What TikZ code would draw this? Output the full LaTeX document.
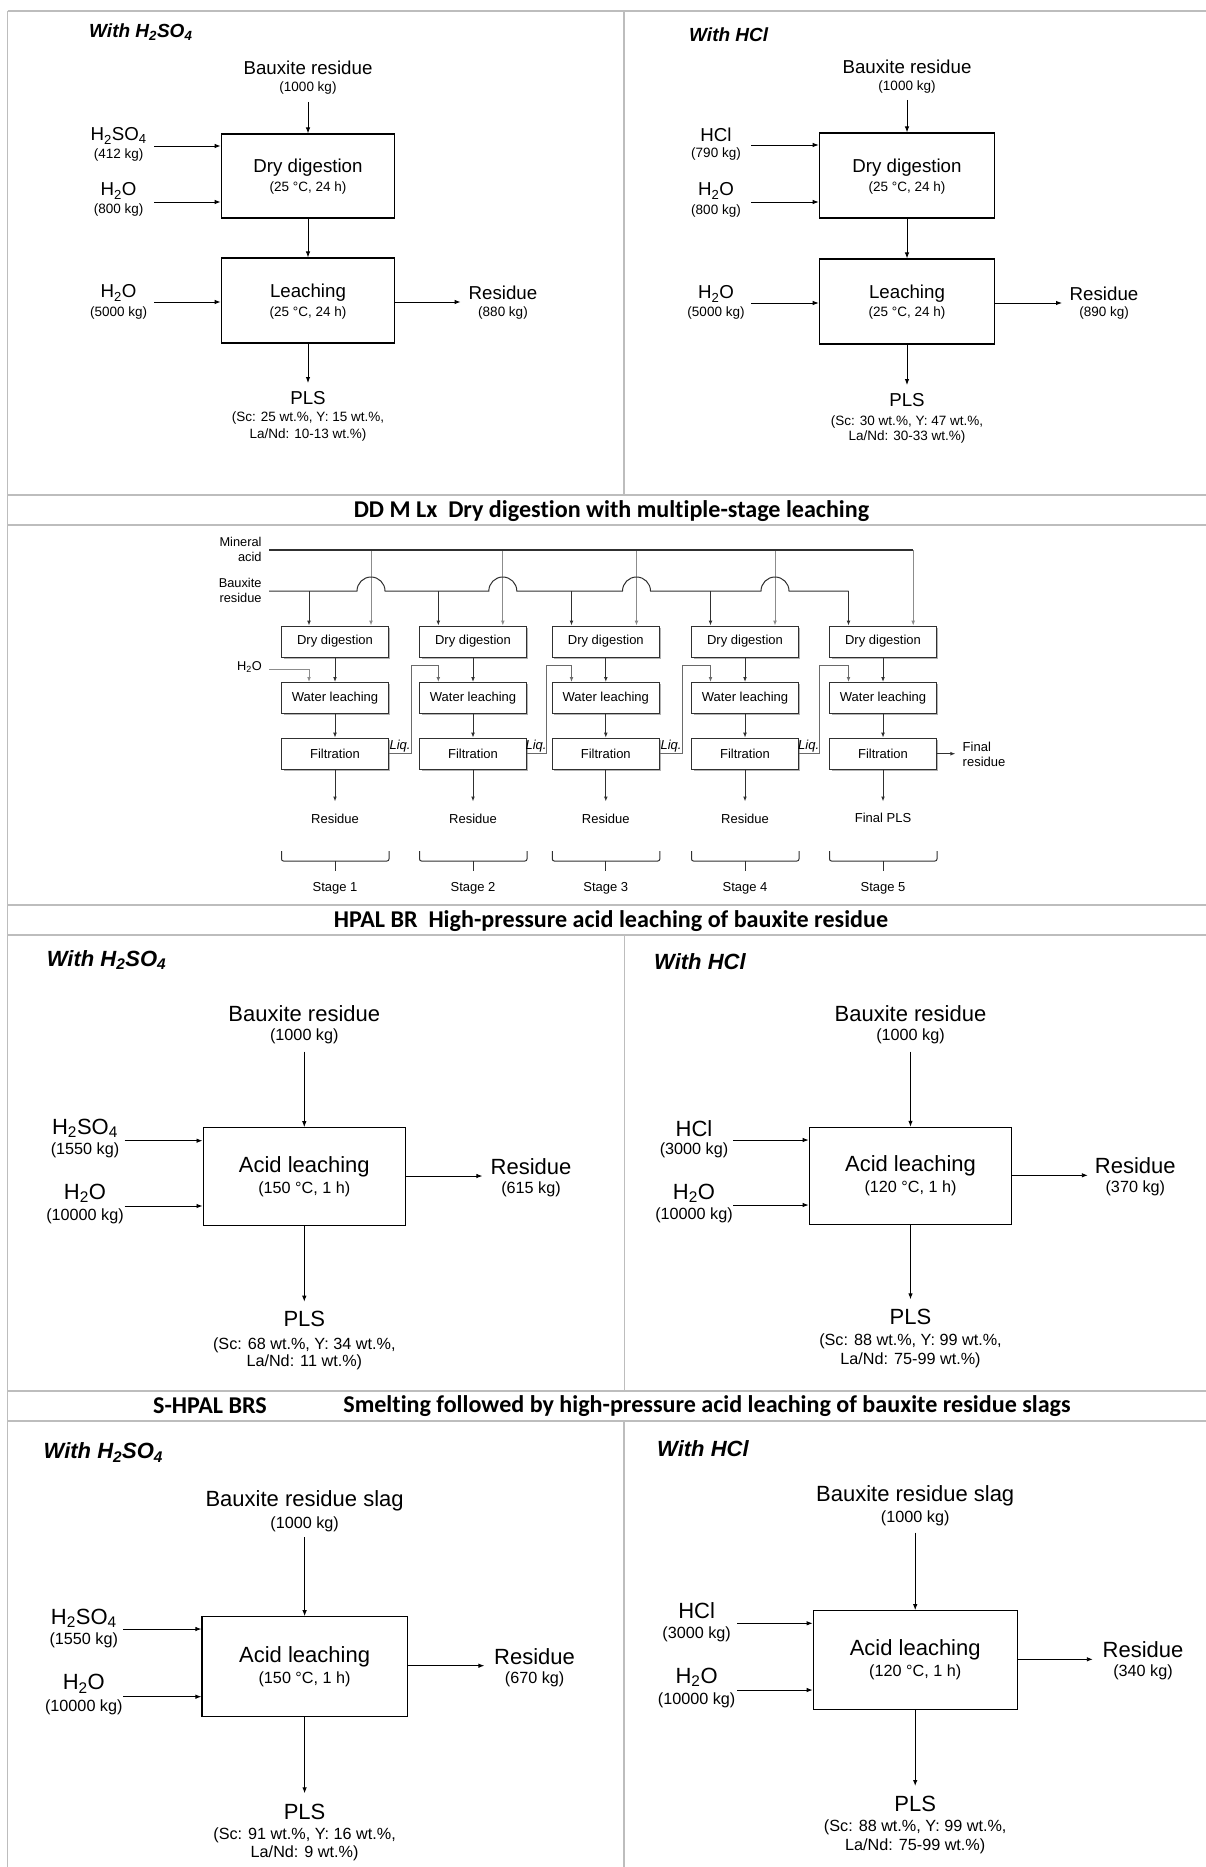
\documentclass[tikz,border=0pt]{standalone}
\usepackage{fontspec}
\setmainfont{Liberation Sans}
\newfontfamily\carlfont[Ligatures=CommonOff]{Carlito}
\usetikzlibrary{arrows.meta,shadows}
\definecolor{gridgray}{HTML}{BDBDBD}
\definecolor{ddgray}{HTML}{8C8C8C}
\definecolor{dddark}{HTML}{303030}
\definecolor{liqgray}{HTML}{6A6A6A}
\newcommand\myfs[1]{\fontsize{#1pt}{#1pt}\selectfont}
\begin{document}
\begin{tikzpicture}[x=1pt,y=-1pt,
  grid/.style={draw=gridgray,line width=1.4pt},
  pbox/.style={draw=black,line width=1.1pt,inner sep=0pt},
  parr/.style={draw=black,line width=0.9pt,-{Latex[length=6pt,width=4.5pt]}},
  mA/.style={inner sep=0pt,font=\myfs{18.7}},
  sA/.style={inner sep=0pt,font=\myfs{13.5}},
  mB/.style={inner sep=0pt,font=\myfs{22}},
  sB/.style={inner sep=0pt,font=\myfs{16.2}},
  hA/.style={inner sep=0pt,anchor=west,font=\myfs{19}\bfseries\itshape},
  hB/.style={inner sep=0pt,anchor=west,font=\myfs{22}\bfseries\itshape},
  ttl/.style={inner sep=0pt,font=\carlfont\bfseries\myfs{24.1}},
  ddbox/.style={draw=dddark,line width=1pt,fill=white,inner sep=0pt,minimum width=106.5pt,minimum height=31pt,font=\myfs{13},drop shadow={shadow xshift=1.8pt,shadow yshift=-1.8pt,fill=black!50,opacity=0.6}},
  ddtxt/.style={inner sep=0pt,font=\myfs{13}},
  ddlab/.style={inner sep=0pt,anchor=east,font=\myfs{12.8}},
  ddline/.style={draw=dddark,line width=1pt},
  acidline/.style={draw=dddark,line width=1.5pt},
  ddarr/.style={draw=dddark,line width=1pt,-{Latex[length=5pt,width=3.8pt]}},
  grayarr/.style={draw=ddgray,line width=1pt,-{Latex[length=5pt,width=3.8pt]}},
  liqarr/.style={draw=liqgray,line width=1pt,-{Latex[length=5pt,width=3.8pt]}},
  liqlab/.style={inner sep=0pt,font=\myfs{13}\itshape},
  brace/.style={draw=dddark,line width=1pt,rounded corners=2pt}
]
\useasboundingbox (0,0) rectangle (1206,1867);

% ---------------- grid ----------------
\draw[grid] (7.7,11) -- (7.7,1867);
\draw[grid] (7.7,11) -- (1206,11);
\draw[grid] (624,11) -- (624,495);
\draw[grid] (7.7,495) -- (1206,495);
\draw[grid] (7.7,525) -- (1206,525);
\draw[grid] (7.7,905) -- (1206,905);
\draw[grid] (7.7,935) -- (1206,935);
\draw[grid] (624.5,935) -- (624.5,1391);
\draw[grid] (7.7,1391) -- (1206,1391);
\draw[grid] (7.7,1421) -- (1206,1421);
\draw[grid] (624,1421) -- (624,1867);

% ---------------- titles ----------------
\node[ttl] (t1) at (611.5,511) {DD M Lx~~Dry digestion with multiple-stage leaching};
\node[ttl] (t2) at (611,921) {HPAL BR~~High-pressure acid leaching of bauxite residue};
\node[ttl] (t3a) at (210,1406) {S-HPAL BRS};
\node[ttl] (t3b) at (707,1406) {Smelting followed by high-pressure acid leaching of bauxite residue slags};

% ---------------- Panel 1 left (H2SO4) ----------------
\node[hA] (p1lt) at (89,32) {With H\textsubscript{2}SO\textsubscript{4}};
\node[mA] (p1lf) at (308,68) {Bauxite residue};
\node[sA] (p1lfm) at (308,88) {(1000 kg)};
\coordinate (p1lfa) at (308,102);
\node[pbox,minimum width=173.6pt,minimum height=84pt] (p1ldd) at (308,176) {};
\node[mA] (p1lddt) at (308,168) {Dry digestion};
\node[sA] (p1lddc) at (308,188) {(25 °C, 24 h)};
\draw[parr] (p1lfa) -- (p1lfa |- p1ldd.north);
\node[mA] (p1la) at (118.6,136) {H\textsubscript{2}SO\textsubscript{4}};
\node[sA] (p1lam) at (118.6,155) {(412 kg)};
\coordinate (p1laa) at (154,146);
\draw[parr] (p1laa) -- (p1laa -| p1ldd.west);
\node[mA] (p1lw) at (118.6,191) {H\textsubscript{2}O};
\node[sA] (p1lwm) at (118.6,210) {(800 kg)};
\coordinate (p1lwa) at (154,202);
\draw[parr] (p1lwa) -- (p1lwa -| p1ldd.west);
\node[pbox,minimum width=173.6pt,minimum height=85pt] (p1lle) at (308,300.5) {};
\node[mA] (p1llet) at (308,293) {Leaching};
\node[sA] (p1llec) at (308,313) {(25 °C, 24 h)};
\draw[parr] (p1ldd) -- (p1lle);
\node[mA] (p1lw2) at (118.6,293) {H\textsubscript{2}O};
\node[sA] (p1lw2m) at (118.6,313) {(5000 kg)};
\coordinate (p1lw2a) at (154,302);
\draw[parr] (p1lw2a) -- (p1lw2a -| p1lle.west);
\coordinate (p1lra) at (460.6,302);
\draw[parr] (p1lra -| p1lle.east) -- (p1lra);
\node[mA] (p1lr) at (503,293) {Residue};
\node[sA] (p1lrm) at (503,313) {(880 kg)};
\coordinate (p1lpa) at (308,383);
\draw[parr] (p1lle) -- (p1lpa);
\node[mA] (p1lp) at (308,398) {PLS};
\node[sA] (p1lp1) at (308,418) {(Sc: 25 wt.\%, Y: 15 wt.\%,};
\node[sA] (p1lp2) at (308,435) {La/Nd: 10-13 wt.\%)};

% ---------------- Panel 1 right (HCl) ----------------
\node[hA] (p1rt) at (689,35) {With HCl};
\node[mA] (p1rf) at (907,67) {Bauxite residue};
\node[sA] (p1rfm) at (907,87) {(1000 kg)};
\coordinate (p1rfa) at (907,100);
\node[pbox,minimum width=175.5pt,minimum height=85pt] (p1rdd) at (907,175.5) {};
\node[mA] (p1rddt) at (907,168) {Dry digestion};
\node[sA] (p1rddc) at (907,188) {(25 °C, 24 h)};
\draw[parr] (p1rfa) -- (p1rfa |- p1rdd.north);
\node[mA] (p1ra) at (716,135) {HCl};
\node[sA] (p1ram) at (716,154) {(790 kg)};
\coordinate (p1raa) at (751,145);
\draw[parr] (p1raa) -- (p1raa -| p1rdd.west);
\node[mA] (p1rw) at (716,191) {H\textsubscript{2}O};
\node[sA] (p1rwm) at (716,211) {(800 kg)};
\coordinate (p1rwa) at (751,202);
\draw[parr] (p1rwa) -- (p1rwa -| p1rdd.west);
\node[pbox,minimum width=175.5pt,minimum height=85pt] (p1rle) at (907,301.5) {};
\node[mA] (p1rlet) at (907,294) {Leaching};
\node[sA] (p1rlec) at (907,313) {(25 °C, 24 h)};
\draw[parr] (p1rdd) -- (p1rle);
\node[mA] (p1rw2) at (716,294) {H\textsubscript{2}O};
\node[sA] (p1rw2m) at (716,313) {(5000 kg)};
\coordinate (p1rw2a) at (751,303);
\draw[parr] (p1rw2a) -- (p1rw2a -| p1rle.west);
\coordinate (p1rra) at (1062,303);
\draw[parr] (p1rra -| p1rle.east) -- (p1rra);
\node[mA] (p1rr) at (1104,294) {Residue};
\node[sA] (p1rrm) at (1104,313) {(890 kg)};
\coordinate (p1rpa) at (907,385);
\draw[parr] (p1rle) -- (p1rpa);
\node[mA] (p1rp) at (907,400) {PLS};
\node[sA] (p1rp1) at (907,422) {(Sc: 30 wt.\%, Y: 47 wt.\%,};
\node[sA] (p1rp2) at (907,437) {La/Nd: 30-33 wt.\%)};

% ---------------- DD M Lx multistage ----------------
\node[ddlab] (lma) at (261.7,542.3) {Mineral};
\node[ddlab] (lmb) at (261.7,557.3) {acid};
\node[ddlab] (lba) at (261.7,583.3) {Bauxite};
\node[ddlab] (lbb) at (261.7,598.3) {residue};
\coordinate (acid0) at (269,550);
\coordinate (baux0) at (269,591);
\foreach \i/\c/\b/\a in {1/335/309/371, 2/473/438.3/502.8, 3/605.8/571.5/636.5, 4/745/710.5/775, 5/883/848.5/913.2}{
  \coordinate (bx\i) at (\b,591);
  \coordinate (ax\i) at (\a,550);
  \coordinate (hp\i) at (\a-14,591);
  \node[ddbox] (dd\i) at (\c,641.6) {Dry digestion};
  \node[ddbox] (wl\i) at (\c,698) {Water leaching};
  \node[ddbox] (fi\i) at (\c,753.7) {Filtration};
  \draw[ddarr] (dd\i) -- (wl\i);
  \draw[ddarr] (wl\i) -- (fi\i);
  \coordinate (re\i) at (\c,801.5);
  \draw[ddarr] (fi\i) -- (re\i);
  \draw[brace] (\c-53.5,851) -- (\c-53.5,861) -- (\c+54,861) -- (\c+54,851);
  \draw[brace] (\c,861) -- (\c,871);
  \node[ddtxt] (st\i) at (\c,888) {Stage \i};
}
\foreach \i in {1,2,3,4}{
  \draw[grayarr] (ax\i) -- (ax\i |- dd\i.north);
  \draw[ddarr] (bx\i) -- (bx\i |- dd\i.north);
}
\draw[acidline] (acid0) -- (ax5);
\draw[grayarr] (ax5) -- (ax5 |- dd5.north);
\draw[ddline] (baux0) -- (hp1) arc[start angle=180,end angle=0,radius=14pt]
  -- (hp2) arc[start angle=180,end angle=0,radius=14pt]
  -- (hp3) arc[start angle=180,end angle=0,radius=14pt]
  -- (hp4) arc[start angle=180,end angle=0,radius=14pt]
  -- (bx5);
\draw[ddarr] (bx5) -- (bx5 |- dd5.north);
\node[ddlab] (lh2o) at (262,666.7) {H\textsubscript{2}O};
\coordinate (h2o0) at (269,669.3);
\draw[grayarr] (h2o0) -- (h2o0 -| bx1) -- (bx1 |- wl1.north);
\foreach \i/\j/\l/\lx in {1/2/411/400, 2/3/546.5/536, 3/4/682.3/671, 4/5/819.8/808.7}{
  \coordinate (lq\i) at (\l,753.7);
  \coordinate (lt\i) at (\l,665.3);
  \draw[liqarr] (fi\i.east) -- (lq\i) -- (lt\i) -- (lt\i -| bx\j) -- (bx\j |- wl\j.north);
  \node[liqlab] (lql\i) at (\lx,745.7) {Liq.};
}
\foreach \i/\c in {1/335,2/473,3/605.8,4/745}{
  \node[ddtxt] (res\i) at (\c,819) {Residue};
}
\node[ddtxt] (fpls) at (883,818.3) {Final PLS};
\coordinate (fra) at (955.4,753.7);
\draw[ddarr] (fi5) -- (fra);
\node[ddtxt,anchor=west] (fr1) at (962.5,746.7) {Final};
\node[ddtxt,anchor=west] (fr2) at (962.5,761.7) {residue};

% ---------------- HPAL left (H2SO4) ----------------
\node[hB] (hlt) at (46.7,960) {With H\textsubscript{2}SO\textsubscript{4}};
\node[mB] (hlf) at (304.3,1013.3) {Bauxite residue};
\node[sB] (hlfm) at (304.3,1036.7) {(1000 kg)};
\coordinate (hlfa) at (304.3,1051.7);
\node[pbox,minimum width=202.5pt,minimum height=98pt] (hlb) at (304.3,1176.7) {};
\node[mB] (hlbt) at (304.3,1166.7) {Acid leaching};
\node[sB] (hlbc) at (304.3,1189.3) {(150 °C, 1 h)};
\draw[parr] (hlfa) -- (hlfa |- hlb.north);
\node[mB] (hla) at (85,1128.3) {H\textsubscript{2}SO\textsubscript{4}};
\node[sB] (hlam) at (85,1150) {(1550 kg)};
\coordinate (hlaa) at (124.5,1140.7);
\draw[parr] (hlaa) -- (hlaa -| hlb.west);
\node[mB] (hlw) at (85,1193.3) {H\textsubscript{2}O};
\node[sB] (hlwm) at (85,1216.7) {(10000 kg)};
\coordinate (hlwa) at (124.5,1206);
\draw[parr] (hlwa) -- (hlwa -| hlb.west);
\coordinate (hlra) at (482.4,1176);
\draw[parr] (hlra -| hlb.east) -- (hlra);
\node[mB] (hlr) at (531,1166.7) {Residue};
\node[sB] (hlrm) at (531,1189.3) {(615 kg)};
\coordinate (hlpa) at (304.3,1301.7);
\draw[parr] (hlb) -- (hlpa);
\node[mB] (hlp) at (304.3,1319.3) {PLS};
\node[sB] (hlp1) at (304.3,1345) {(Sc: 68 wt.\%, Y: 34 wt.\%,};
\node[sB] (hlp2) at (304.3,1362.7) {La/Nd: 11 wt.\%)};

% ---------------- HPAL right (HCl) ----------------
\node[hB] (hrt) at (654,961.7) {With HCl};
\node[mB] (hrf) at (910.5,1013.3) {Bauxite residue};
\node[sB] (hrfm) at (910.5,1036.7) {(1000 kg)};
\coordinate (hrfa) at (910.5,1051.7);
\node[pbox,minimum width=202.6pt,minimum height=97pt] (hrb) at (910.5,1175.8) {};
\node[mB] (hrbt) at (910.5,1166) {Acid leaching};
\node[sB] (hrbc) at (910.5,1188.3) {(120 °C, 1 h)};
\draw[parr] (hrfa) -- (hrfa |- hrb.north);
\node[mB] (hra) at (694,1128.3) {HCl};
\node[sB] (hram) at (694,1150) {(3000 kg)};
\coordinate (hraa) at (733.3,1140);
\draw[parr] (hraa) -- (hraa -| hrb.west);
\node[mB] (hrw) at (694,1193.3) {H\textsubscript{2}O};
\node[sB] (hrwm) at (694,1215) {(10000 kg)};
\coordinate (hrwa) at (733.3,1205);
\draw[parr] (hrwa) -- (hrwa -| hrb.west);
\coordinate (hrra) at (1087.8,1175.3);
\draw[parr] (hrra -| hrb.east) -- (hrra);
\node[mB] (hrr) at (1135.3,1166) {Residue};
\node[sB] (hrrm) at (1135.3,1188.3) {(370 kg)};
\coordinate (hrpa) at (910.5,1299.3);
\draw[parr] (hrb) -- (hrpa);
\node[mB] (hrp) at (910.5,1316.7) {PLS};
\node[sB] (hrp1) at (910.5,1341.7) {(Sc: 88 wt.\%, Y: 99 wt.\%,};
\node[sB] (hrp2) at (910.5,1360) {La/Nd: 75-99 wt.\%)};

% ---------------- S-HPAL left (H2SO4) ----------------
\node[hB] (slt) at (43.5,1452.7) {With H\textsubscript{2}SO\textsubscript{4}};
\node[mB] (slf) at (304.6,1500.7) {Bauxite residue slag};
\node[sB] (slfm) at (304.6,1524) {(1000 kg)};
\coordinate (slfa) at (304.6,1537.3);
\node[pbox,minimum width=205.3pt,minimum height=100pt] (slb) at (304.6,1666.7) {};
\node[mB] (slbt) at (304.6,1656.7) {Acid leaching};
\node[sB] (slbc) at (304.6,1679.3) {(150 °C, 1 h)};
\draw[parr] (slfa) -- (slfa |- slb.north);
\node[mB] (sla) at (83.8,1618.3) {H\textsubscript{2}SO\textsubscript{4}};
\node[sB] (slam) at (83.8,1640) {(1550 kg)};
\coordinate (slaa) at (123.4,1629);
\draw[parr] (slaa) -- (slaa -| slb.west);
\node[mB] (slw) at (83.8,1684) {H\textsubscript{2}O};
\node[sB] (slwm) at (83.8,1707.3) {(10000 kg)};
\coordinate (slwa) at (123.4,1696.7);
\draw[parr] (slwa) -- (slwa -| slb.west);
\coordinate (slra) at (484.4,1665.7);
\draw[parr] (slra -| slb.east) -- (slra);
\node[mB] (slr) at (534.6,1656.7) {Residue};
\node[sB] (slrm) at (534.6,1679.3) {(670 kg)};
\coordinate (slpa) at (304.6,1793.3);
\draw[parr] (slb) -- (slpa);
\node[mB] (slp) at (304.6,1811.7) {PLS};
\node[sB] (slp1) at (304.6,1835) {(Sc: 91 wt.\%, Y: 16 wt.\%,};
\node[sB] (slp2) at (304.6,1853.3) {La/Nd: 9 wt.\%)};

% ---------------- S-HPAL right (HCl) ----------------
\node[hB] (srt) at (657,1448.3) {With HCl};
\node[mB] (srf) at (915.2,1496) {Bauxite residue slag};
\node[sB] (srfm) at (915.2,1518.3) {(1000 kg)};
\coordinate (srfa) at (915.2,1532.7);
\node[pbox,minimum width=204pt,minimum height=98.6pt] (srb) at (915.2,1660) {};
\node[mB] (srbt) at (915.2,1650) {Acid leaching};
\node[sB] (srbc) at (915.2,1672.7) {(120 °C, 1 h)};
\draw[parr] (srfa) -- (srfa |- srb.north);
\node[mB] (sra) at (696.6,1610.7) {HCl};
\node[sB] (sram) at (696.6,1634) {(3000 kg)};
\coordinate (sraa) at (737.2,1623.3);
\draw[parr] (sraa) -- (sraa -| srb.west);
\node[mB] (srw) at (696.6,1677.3) {H\textsubscript{2}O};
\node[sB] (srwm) at (696.6,1700.7) {(10000 kg)};
\coordinate (srwa) at (737.2,1690);
\draw[parr] (srwa) -- (srwa -| srb.west);
\coordinate (srra) at (1092.8,1659.3);
\draw[parr] (srra -| srb.east) -- (srra);
\node[mB] (srr) at (1143,1650) {Residue};
\node[sB] (srrm) at (1143,1672.7) {(340 kg)};
\coordinate (srpa) at (915.2,1786);
\draw[parr] (srb) -- (srpa);
\node[mB] (srp) at (915.2,1804) {PLS};
\node[sB] (srp1) at (915.2,1827.7) {(Sc: 88 wt.\%, Y: 99 wt.\%,};
\node[sB] (srp2) at (915.2,1846) {La/Nd: 75-99 wt.\%)};
\end{tikzpicture}
\end{document}
